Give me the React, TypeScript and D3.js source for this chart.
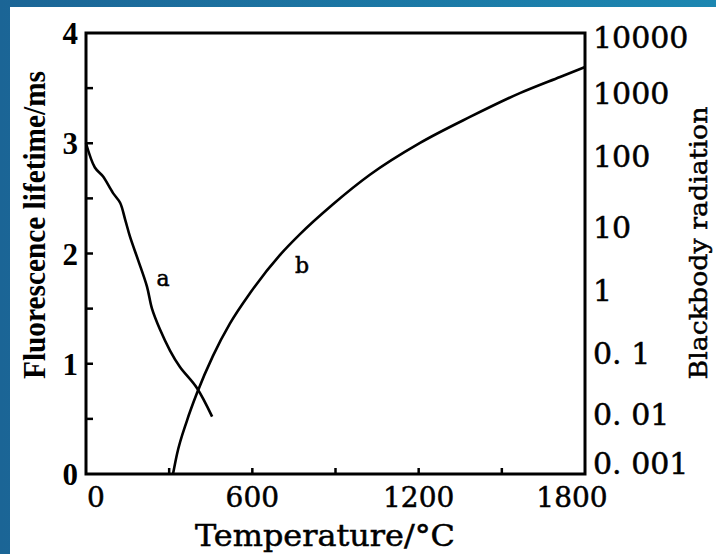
import React from "react";
import * as d3 from "d3";

// curve a: fluorescence lifetime (ms) vs temperature (°C)
const lifeTemp = [0, 32, 61, 97, 123, 141, 159, 188, 220, 238, 267, 303, 339, 400, 455];
const lifeVal = [3.0, 2.78, 2.7, 2.55, 2.46, 2.31, 2.15, 1.94, 1.7, 1.5, 1.31, 1.12, 0.97, 0.78, 0.52];

// curve b: blackbody radiation (right axis) vs temperature (°C)
const bbTemp = [314, 328, 364, 400, 458, 519, 592, 700, 772, 891, 1024, 1205, 1385, 1565, 1710, 1800];
const bbVal = [0.0006, 0.0015, 0.0074, 0.022, 0.089, 0.29, 0.89, 3.6, 7.7, 21, 55, 163, 415, 980, 1920, 2900];

const xTicks = [0, 600, 1200, 1800];
const xMinor = [300, 600, 900, 1200, 1500];
const yTicks = [0, 1, 2, 3, 4];
const yMinor = [0.5, 1, 1.5, 2, 2.5, 3, 3.5];

// right axis is not evenly spaced: each decade label sits at this lifetime-axis level
const rightLabels = ["0. 001", "0. 01", "0. 1", "1", "10", "100", "1000", "10000"];
const rightExp = [-3, -2, -1, 0, 1, 2, 3, 4];
const rightAtLife = [0.1, 0.54, 1.1, 1.67, 2.24, 2.88, 3.46, 3.96];

const W = 716;
const H = 554;
const m = { left: 86, right: 585, top: 33, bottom: 474 };

export default function App() {
  const x = d3.scaleLinear().domain([0, 1800]).range([m.left, m.right]);
  const y = d3.scaleLinear().domain([0, 4]).range([m.bottom, m.top]);
  const yr = d3
    .scaleLinear()
    .domain(rightExp)
    .range(rightAtLife.map((v) => y(v)));

  const lineA = d3
    .line<number>()
    .x((d, i) => x(lifeTemp[i]))
    .y((d) => y(d))
    .curve(d3.curveCatmullRom.alpha(0.5));
  const lineB = d3
    .line<number>()
    .x((d, i) => x(bbTemp[i]))
    .y((d) => yr(Math.log10(d)))
    .curve(d3.curveMonotoneX);

  const serif = "DejaVu Serif";
  const times = "Liberation Serif";
  const thick = { stroke: "#000", strokeWidth: 0.5 };

  return (
    <div style={{ position: "fixed", left: 0, top: 0 }}>
      <svg width={W} height={H} style={{ display: "block" }}>
        <defs>
          <linearGradient id="bg" x1="0" y1="0" x2="1" y2="0">
            <stop offset="0" stopColor="#1b6596" />
            <stop offset="1" stopColor="#1c87b1" />
          </linearGradient>
        </defs>
        <rect width={W} height={H} fill="url(#bg)" />
        <rect x={10} y={7} width={W - 10} height={H - 7} fill="#fff" />

        {/* ticks */}
        {yMinor.map((t) => (
          <line key={"yt" + t} x1={m.left} x2={m.left + 7} y1={y(t)} y2={y(t)} stroke="#000" strokeWidth={2.5} />
        ))}
        {xMinor.map((t) => (
          <line key={"xt" + t} x1={x(t)} x2={x(t)} y1={m.bottom} y2={m.bottom - 6} stroke="#000" strokeWidth={2.5} />
        ))}

        {/* frame */}
        <rect
          x={m.left}
          y={m.top}
          width={m.right - m.left}
          height={m.bottom - m.top}
          fill="none"
          stroke="#000"
          strokeWidth={3}
        />

        {/* curves */}
        <path d={lineA(lifeVal) || ""} fill="none" stroke="#000" strokeWidth={2.6} strokeLinejoin="round" />
        <path d={lineB(bbVal) || ""} fill="none" stroke="#000" strokeWidth={2.6} />

        <text x={163} y={286} fontFamily={serif} fontSize={22} textAnchor="middle" {...thick}>a</text>
        <text x={302} y={273} fontFamily={serif} fontSize={22} textAnchor="middle" {...thick}>b</text>

        {/* left y labels */}
        {yTicks.map((t) => (
          <text
            key={"yl" + t}
            x={m.left - 8}
            y={y(t) + 11}
            fontFamily={times}
            fontSize={31}
            fontWeight="bold"
            textAnchor="end"
          >
            {t}
          </text>
        ))}

        {/* x labels */}
        {xTicks.map((t, i) => (
          <text
            key={"xl" + t}
            x={x(t) + (i === 0 ? 10 : i === xTicks.length - 1 ? -13 : 0)}
            y={m.bottom + 33}
            fontFamily={serif}
            fontSize={28}
            textAnchor="middle"
            {...thick}
          >
            {t}
          </text>
        ))}

        {/* right labels */}
        {rightExp.map((e, i) => (
          <text key={"rl" + e} x={m.right + 8} y={yr(e) + 11} fontFamily={serif} fontSize={30} {...thick}>
            {rightLabels[i]}
          </text>
        ))}

        {/* titles */}
        <text
          transform={`translate(45,225) rotate(-90)`}
          fontFamily={times}
          fontSize={31}
          fontWeight="bold"
          textAnchor="middle"
          textLength={308}
          lengthAdjust="spacingAndGlyphs"
        >
          Fluorescence lifetime/ms
        </text>
        <text
          transform={`translate(707,243) rotate(-90)`}
          fontFamily={serif}
          fontSize={24}
          textAnchor="middle"
          textLength={273}
          lengthAdjust="spacingAndGlyphs"
          {...thick}
        >
          Blackbody radiation
        </text>
        <text
          x={325}
          y={546}
          fontFamily={serif}
          fontSize={29}
          textAnchor="middle"
          textLength={260}
          lengthAdjust="spacingAndGlyphs"
          {...thick}
        >
          Temperature/°C
        </text>
      </svg>
    </div>
  );
}
